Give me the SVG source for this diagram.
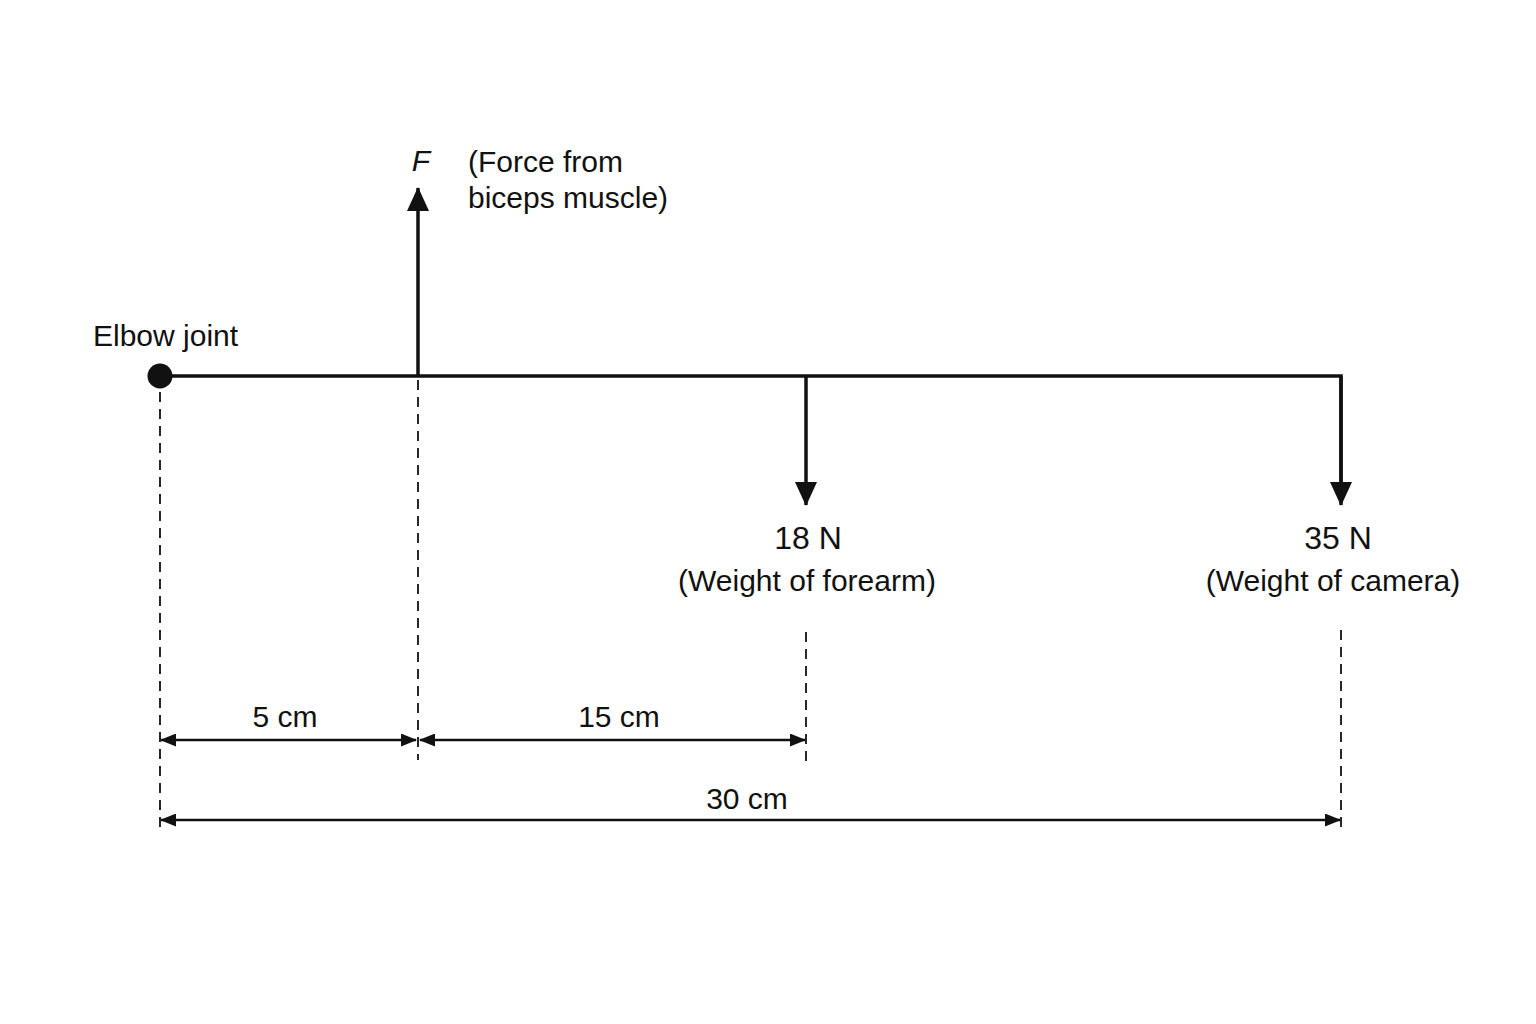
<svg xmlns="http://www.w3.org/2000/svg" width="1536" height="1024" viewBox="0 0 1536 1024">
<defs>
<style>
.t{font-family:"Liberation Sans",Arial,sans-serif;fill:#111;font-size:30px}
.n{font-size:32px}
.m{text-anchor:middle}
.beam{stroke:#111;stroke-width:3.5;fill:none}
.force{stroke:#111;stroke-width:3.5;fill:none}
.dash{stroke:#111;stroke-width:1.8;stroke-dasharray:10 7;fill:none}
.dim{stroke:#111;stroke-width:2.4;fill:none}
</style>
<marker id="big" viewBox="0 0 24 22" refX="23" refY="11" markerUnits="userSpaceOnUse" markerWidth="24" markerHeight="22" orient="auto">
<path d="M0,0 L24,11 L0,22 Z" fill="#111"/>
</marker>
<marker id="sm" viewBox="0 0 16 13" refX="15" refY="6.5" markerUnits="userSpaceOnUse" markerWidth="16" markerHeight="13" orient="auto-start-reverse">
<path d="M0,0 L16,6.5 L0,13 Z" fill="#111"/>
</marker>
</defs>
<rect width="1536" height="1024" fill="#fff"/>
<g id="connectors">
<line class="dash" x1="160" y1="392" x2="160" y2="832"/>
<line class="dash" x1="418" y1="380" x2="418" y2="760"/>
<line class="dash" x1="806" y1="632" x2="806" y2="766"/>
<line class="dash" x1="1341" y1="630" x2="1341" y2="832"/>
<line class="dim" x1="161" y1="740" x2="416" y2="740" marker-start="url(#sm)" marker-end="url(#sm)"/>
<line class="dim" x1="420" y1="740" x2="805" y2="740" marker-start="url(#sm)" marker-end="url(#sm)"/>
<line class="dim" x1="161" y1="820" x2="1340" y2="820" marker-start="url(#sm)" marker-end="url(#sm)"/>
</g>
<g id="beam">
<polyline class="beam" points="160,376 1341,376 1341,490"/>
<circle cx="160" cy="376" r="12.5" fill="#111"/>
</g>
<g id="force-F">
<line class="force" x1="418" y1="376" x2="418" y2="188" marker-end="url(#big)"/>
<text class="t m" x="421" y="171" font-size="36" font-style="italic">F</text>
<text class="t" x="468" y="172">(Force from</text>
<text class="t" x="468" y="208">biceps muscle)</text>
</g>
<g id="elbow">
<text class="t" x="93" y="346">Elbow joint</text>
</g>
<g id="force-18">
<line class="force" x1="806" y1="376" x2="806" y2="505" marker-end="url(#big)"/>
<text class="t n m" x="808" y="549">18 N</text>
<text class="t m" x="807" y="591">(Weight of forearm)</text>
</g>
<g id="force-35">
<line class="force" x1="1341" y1="376" x2="1341" y2="505" marker-end="url(#big)"/>
<text class="t n m" x="1338" y="549">35 N</text>
<text class="t m" x="1333" y="591">(Weight of camera)</text>
</g>
<g id="dims">
<text class="t m" x="285" y="727">5 cm</text>
<text class="t m" x="619" y="727">15 cm</text>
<text class="t m" x="747" y="809">30 cm</text>
</g>
</svg>
